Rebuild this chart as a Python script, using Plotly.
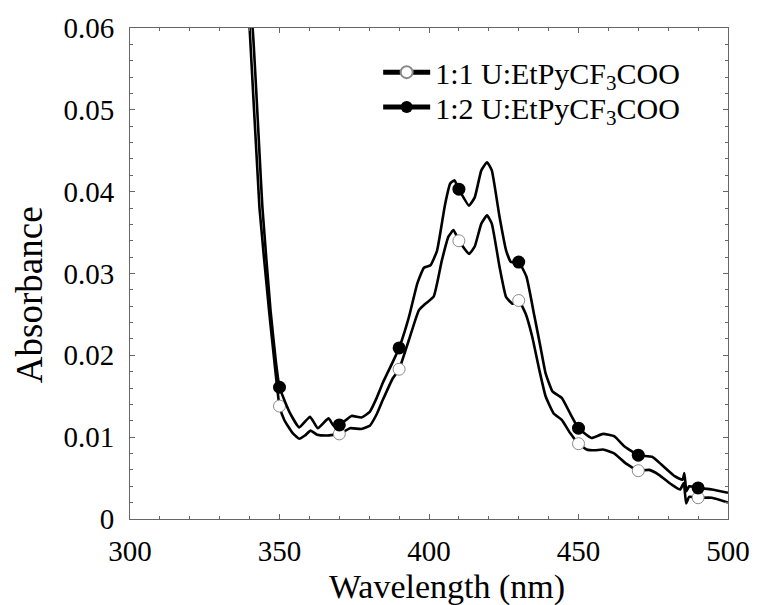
import plotly.graph_objects as go

# ---- data ----
MARKER_WL = [350, 370, 390, 410, 430, 450, 470, 490]

wl_11 = [338.5, 340.0, 343.3, 346.5, 348.3, 350, 351.6, 354.4, 356.6, 358.5, 360.4, 362.6,
         365.9, 370, 373.6, 377.4, 380.2, 382.5, 384.5, 387.9, 390, 393.3, 396.6, 398.8,
         401.6, 404.3, 406.5, 408.2, 410, 413.4, 415.3, 417.5, 419.4, 421.0, 423.6, 425.8,
         428.0, 430, 432.3, 434.5, 436.9, 439.0, 441.7, 444.4, 447.2, 450, 452.7, 455.5,
         458.2, 462.0, 465.8, 470, 473.6, 476.9, 481.2, 484.0, 485.2, 486.0, 487.0, 490,
         494.6, 500]
abs_11 = [0.066, 0.060, 0.038, 0.0255, 0.0192, 0.0138, 0.0121, 0.0105, 0.0098, 0.0102, 0.0108, 0.0103,
          0.0102, 0.0104, 0.0111, 0.0110, 0.0114, 0.0128, 0.0145, 0.0172, 0.0183, 0.0219, 0.0255, 0.0263,
          0.0272, 0.0316, 0.0345, 0.0353, 0.0340, 0.0324, 0.0333, 0.0361, 0.0371, 0.0361, 0.0308, 0.0271,
          0.0263, 0.0267, 0.0251, 0.0223, 0.0182, 0.0150, 0.0129, 0.0121, 0.0105, 0.0092, 0.0085, 0.0084,
          0.0085, 0.0080, 0.0068, 0.0059, 0.0060, 0.0054, 0.0042, 0.0036, 0.0044, 0.0019, 0.0027, 0.0026,
          0.0026, 0.0020]

wl_12 = [338.8, 341.0, 344.3, 347.0, 348.8, 350, 353.3, 356.6, 360.2, 362.8, 366.4, 368.1,
         370, 374.1, 377.4, 380.2, 382.5, 384.5, 387.9, 390, 393.3, 396.1, 398.3, 400.5,
         402.7, 405.4, 407.1, 408.5, 410, 413.4, 415.3, 417.5, 419.4, 421.0, 423.6, 425.8,
         427.4, 430, 432.6, 435.2, 437.3, 439.0, 441.3, 444.4, 447.2, 450, 454.3, 458.2,
         462.0, 465.3, 470, 474.6, 477.9, 482.3, 484.8, 485.4, 486.1, 487.0, 490, 494.6, 500]
abs_12 = [0.066, 0.060, 0.038, 0.0255, 0.0192, 0.0161, 0.0131, 0.0112, 0.0125, 0.0111, 0.0123, 0.0114,
          0.0115, 0.0126, 0.0124, 0.0131, 0.0148, 0.0166, 0.0192, 0.0209, 0.0247, 0.0288, 0.0307, 0.0310,
          0.0328, 0.0385, 0.0410, 0.0414, 0.0403, 0.0383, 0.0393, 0.0426, 0.0436, 0.0426, 0.0369, 0.0328,
          0.0314, 0.0314, 0.0296, 0.0249, 0.0210, 0.0178, 0.0156, 0.0148, 0.0129, 0.0111, 0.0099, 0.0104,
          0.0101, 0.0089, 0.0078, 0.0076, 0.0066, 0.0052, 0.0048, 0.0056, 0.0034, 0.0040, 0.0038, 0.0036,
          0.0032]

names = ["1:1 U:EtPyCF<sub>3</sub>COO", "1:2 U:EtPyCF<sub>3</sub>COO"]

X_TICKS = [300, 350, 400, 450, 500]
Y_TICKS = [0, 0.01, 0.02, 0.03, 0.04, 0.05, 0.06]
Y_TICKTEXT = ["0", "0.01", "0.02", "0.03", "0.04", "0.05", "0.06"]
X_TITLE = "Wavelength (nm)"
Y_TITLE = "Absorbance"

FONT = "Liberation Serif"


def sizes(wl, s):
    return [s if w in MARKER_WL else 0 for w in wl]


fig = go.Figure()
fig.add_trace(go.Scatter(
    x=wl_11, y=abs_11, mode="lines+markers", name=names[0], legend="legend",
    line=dict(color="black", width=2.6, shape="spline", smoothing=0.4),
    marker=dict(size=sizes(wl_11, 12), color="white", opacity=1,
                line=dict(color="#8a8a8a", width=1)),
))
fig.add_trace(go.Scatter(
    x=wl_12, y=abs_12, mode="lines+markers", name=names[1], legend="legend2",
    line=dict(color="black", width=2.6, shape="spline", smoothing=0.4),
    marker=dict(size=sizes(wl_12, 13), color="black", opacity=1,
                line=dict(color="black", width=0)),
))

axis_common = dict(
    showline=True, linecolor="#666666", linewidth=1, mirror="ticks",
    ticks="inside", ticklen=5, tickwidth=1, tickcolor="#666666",
    showgrid=False, zeroline=False,
    tickfont=dict(family=FONT, size=29, color="black"),
)

fig.update_xaxes(
    range=[300, 500], tickvals=X_TICKS,
    minor=dict(dtick=10, ticks="inside", ticklen=3, tickcolor="#666666", showgrid=False),
    ticklabelstandoff=6,
    **axis_common,
)
fig.update_yaxes(
    range=[0, 0.06], tickvals=Y_TICKS, ticktext=Y_TICKTEXT,
    minor=dict(dtick=0.002, ticks="inside", ticklen=3, tickcolor="#666666", showgrid=False),
    ticklabelstandoff=9,
    **axis_common,
)

# axis titles as annotations (placed off-centre as in the reference)
fig.add_annotation(text=X_TITLE, xref="paper", yref="paper", x=0.53, y=-0.138,
                   xanchor="center", yanchor="middle", showarrow=False,
                   font=dict(family=FONT, size=34, color="black"))
fig.add_annotation(text=Y_TITLE, xref="paper", yref="paper", x=-0.168, y=0.457,
                   xanchor="center", yanchor="middle", showarrow=False, textangle=-90,
                   font=dict(family=FONT, size=37, color="black"))

legend_style = dict(
    xanchor="left", yanchor="top",
    font=dict(family=FONT, size=30, color="black"),
    bgcolor="rgba(0,0,0,0)", borderwidth=0,
    itemsizing="constant", itemwidth=47, tracegroupgap=0,
)

fig.update_layout(
    width=762, height=605,
    margin=dict(l=130, r=25, t=27, b=86),
    paper_bgcolor="white", plot_bgcolor="white",
    font=dict(family=FONT, color="black"),
    showlegend=True,
    legend=dict(x=0.415, y=0.963, **legend_style),
    legend2=dict(x=0.415, y=0.892, **legend_style),
)

fig.write_html("out.html")
